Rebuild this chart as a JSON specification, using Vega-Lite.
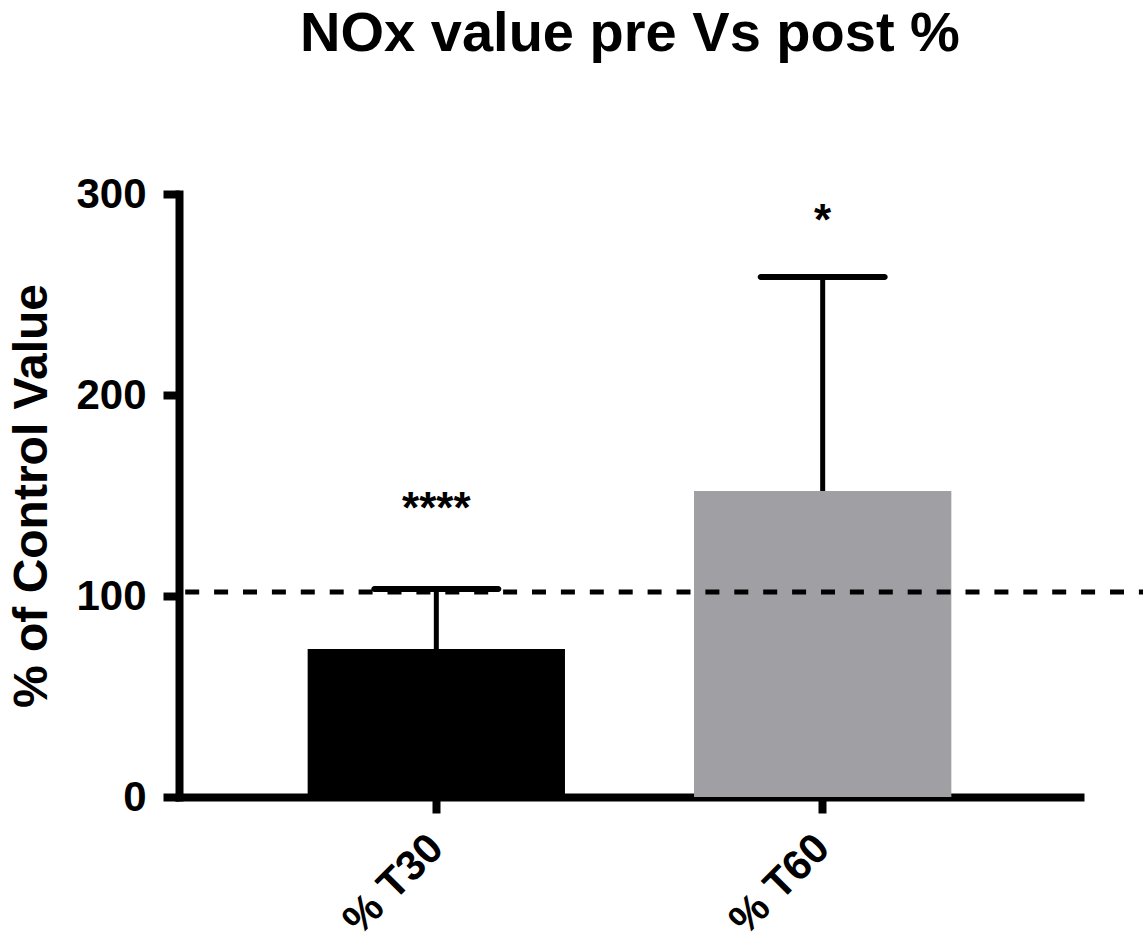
{
  "$schema": "https://vega.github.io/schema/vega-lite/v6.json",
  "width": 964,
  "height": 603,
  "autosize": {"type": "none"},
  "padding": {"left": 179, "top": 194, "right": 0, "bottom": 146},
  "background": "white",
  "title": {
    "text": "NOx value pre Vs post %",
    "font": "Liberation Sans",
    "fontSize": 56,
    "fontWeight": "bold",
    "color": "black",
    "frame": "group",
    "anchor": "middle",
    "dx": -31,
    "offset": 110
  },
  "datasets": {
    "bars": [
      {"group": "% T30", "mean": 73.6, "upper": 103.5},
      {"group": "% T60", "mean": 152.2, "upper": 258.7}
    ],
    "stars": [
      {"group": "% T30", "label": "****", "pos": 143},
      {"group": "% T60", "label": "*", "pos": 286}
    ],
    "control": [
      {"ref": 102}
    ]
  },
  "layer": [
    {
      "data": {"name": "bars"},
      "mark": {"type": "bar"},
      "encoding": {
        "x": {
          "field": "group",
          "type": "nominal",
          "sort": null,
          "scale": {
            "domain": ["% T30", "% T60"],
            "range": [0, 901],
            "paddingInner": 0.334,
            "paddingOuter": 0.333
          },
          "axis": {"title": null, "labelAngle": -45, "labelAlign": "right", "labelBaseline": "middle", "labelPadding": 28}
        },
        "y": {
          "field": "mean",
          "type": "quantitative",
          "scale": {"domain": [0, 300], "nice": false},
          "axis": {"title": "% of Control Value", "values": [0, 100, 200, 300], "labelPadding": 17, "titlePadding": 19}
        },
        "color": {
          "field": "group",
          "type": "nominal",
          "scale": {"domain": ["% T30", "% T60"], "range": ["#000000", "#a09fa3"]},
          "legend": null
        }
      }
    },
    {
      "data": {"name": "control"},
      "mark": {"type": "rule", "color": "black", "strokeWidth": 5, "strokeDash": [14, 14.9], "strokeDashOffset": 9.9},
      "encoding": {
        "y": {"field": "ref", "type": "quantitative", "title": "% of Control Value"}
      }
    },
    {
      "data": {"name": "bars"},
      "mark": {"type": "rule", "color": "black", "strokeWidth": 5},
      "encoding": {
        "x": {"field": "group", "type": "nominal"},
        "y": {"field": "mean", "type": "quantitative", "title": "% of Control Value"},
        "y2": {"field": "upper"}
      }
    },
    {
      "data": {"name": "bars"},
      "mark": {"type": "tick", "color": "black", "size": 130, "thickness": 6, "cornerRadius": 3, "opacity": 1},
      "encoding": {
        "x": {"field": "group", "type": "nominal"},
        "y": {"field": "upper", "type": "quantitative", "title": "% of Control Value"}
      }
    },
    {
      "data": {"name": "stars"},
      "mark": {"type": "text", "font": "Liberation Sans", "fontSize": 44, "fontWeight": "bold", "baseline": "middle", "align": "center", "color": "black"},
      "encoding": {
        "x": {"field": "group", "type": "nominal"},
        "y": {"field": "pos", "type": "quantitative", "title": "% of Control Value"},
        "text": {"field": "label", "type": "nominal"}
      }
    }
  ],
  "config": {
    "view": {"stroke": null},
    "axis": {
      "grid": false,
      "domainColor": "black",
      "domainWidth": 8,
      "domainCap": "square",
      "tickColor": "black",
      "tickWidth": 8,
      "tickSize": 16,
      "labelFont": "Liberation Sans",
      "labelFontSize": 42,
      "labelFontWeight": "bold",
      "labelColor": "black",
      "titleFont": "Liberation Sans",
      "titleFontSize": 48,
      "titleFontWeight": "bold",
      "titleColor": "black"
    }
  }
}
